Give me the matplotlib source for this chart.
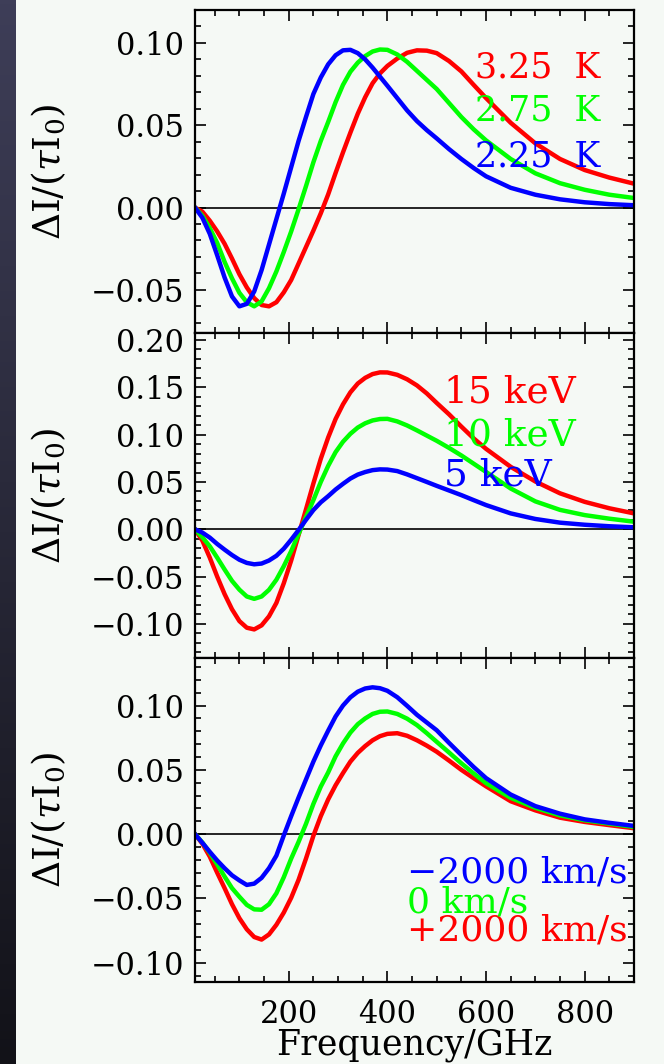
import numpy as np
import matplotlib
matplotlib.use("Agg")
import matplotlib.pyplot as plt
from matplotlib.ticker import MultipleLocator, FuncFormatter

plt.rcParams["font.family"] = ["DejaVu Serif"]
plt.rcParams["mathtext.fontset"] = "dejavuserif"

# frequency grid (GHz) shared by all curves
freq = [10, 25, 40, 55, 70, 85, 100, 115, 130, 145, 160, 175, 190, 205, 220, 235,
        250, 265, 280, 295, 310, 325, 340, 355, 370, 385, 400, 420, 440, 460, 480,
        500, 525, 550, 575, 600, 650, 700, 750, 800, 850, 900]

# top panel: CMB temperature
t_325 = [0, -0.0025, -0.0080, -0.0145, -0.0220, -0.0310, -0.0405, -0.0485, -0.0550,
         -0.0592, -0.0600, -0.0575, -0.0515, -0.0440, -0.0340, -0.0240, -0.0140,
         -0.0035, 0.0080, 0.0210, 0.0335, 0.0455, 0.0570, 0.0670, 0.0755, 0.0815,
         0.0860, 0.0905, 0.0940, 0.0955, 0.0953, 0.0938, 0.0890, 0.0827, 0.0745,
         0.0665, 0.0515, 0.0390, 0.0295, 0.0228, 0.0182, 0.0145]
t_275 = [0, -0.0050, -0.0125, -0.0215, -0.0330, -0.0430, -0.0518, -0.0575, -0.0600,
         -0.0570, -0.0490, -0.0388, -0.0270, -0.0145, -0.0010, 0.0130, 0.0275,
         0.0405, 0.0520, 0.0640, 0.0745, 0.0825, 0.0880, 0.0920, 0.0948, 0.0960,
         0.0958, 0.0930, 0.0885, 0.0830, 0.0775, 0.0720, 0.0635, 0.0550, 0.0475,
         0.0408, 0.0295, 0.0208, 0.0148, 0.0108, 0.0078, 0.0058]
t_225 = [0, -0.0062, -0.0160, -0.0290, -0.0425, -0.0540, -0.0600, -0.0585, -0.0510,
         -0.0380, -0.0225, -0.0070, 0.0085, 0.0245, 0.0405, 0.0550, 0.0690, 0.0790,
         0.0870, 0.0925, 0.0955, 0.0958, 0.0938, 0.0900, 0.0850, 0.0795, 0.0740,
         0.0665, 0.0590, 0.0525, 0.0470, 0.0420, 0.0355, 0.0295, 0.0240, 0.0190,
         0.0120, 0.0078, 0.0050, 0.0032, 0.0021, 0.0014]

# middle panel: gas temperature
kt_15 = [0, -0.0120, -0.0300, -0.0500, -0.0685, -0.0845, -0.0970, -0.1040, -0.1058,
         -0.1015, -0.0920, -0.0778, -0.0570, -0.0330, -0.0060, 0.0210, 0.0484,
         0.0745, 0.0970, 0.1165, 0.1320, 0.1447, 0.1540, 0.1600, 0.1640, 0.1658,
         0.1657, 0.1632, 0.1585, 0.1520, 0.1435, 0.1335, 0.1215, 0.1085, 0.0960,
         0.0850, 0.0660, 0.0505, 0.0380, 0.0290, 0.0222, 0.0168]
kt_10 = [0, -0.0085, -0.0180, -0.0300, -0.0425, -0.0545, -0.0638, -0.0710, -0.0735,
         -0.0710, -0.0640, -0.0533, -0.0390, -0.0230, -0.0050, 0.0130, 0.0308,
         0.0500, 0.0670, 0.0815, 0.0925, 0.1009, 0.1075, 0.1120, 0.1150, 0.1165,
         0.1167, 0.1140, 0.1097, 0.1045, 0.0990, 0.0935, 0.0860, 0.0780, 0.0693,
         0.0606, 0.0431, 0.0295, 0.0205, 0.0150, 0.0112, 0.0080]
kt_5 = [0, -0.0035, -0.0088, -0.0155, -0.0215, -0.0272, -0.0322, -0.0355, -0.0370,
        -0.0362, -0.0330, -0.0280, -0.0205, -0.0110, -0.0008, 0.0100, 0.0203,
        0.0285, 0.0350, 0.0420, 0.0480, 0.0536, 0.0578, 0.0605, 0.0625, 0.0633,
        0.0631, 0.0615, 0.0580, 0.0540, 0.0500, 0.0459, 0.0410, 0.0361, 0.0308,
        0.0256, 0.0168, 0.0109, 0.0070, 0.0048, 0.0032, 0.0021]

# bottom panel: peculiar velocity
v_pos = [0, -0.0075, -0.0175, -0.0300, -0.0420, -0.0545, -0.0654, -0.0740, -0.0800,
         -0.0820, -0.0780, -0.0705, -0.0610, -0.0495, -0.0355, -0.0190, -0.0013,
         0.0140, 0.0270, 0.0380, 0.0475, 0.0564, 0.0632, 0.0685, 0.0730, 0.0762,
         0.0780, 0.0785, 0.0765, 0.0730, 0.0688, 0.0641, 0.0572, 0.0500, 0.0435,
         0.0372, 0.0256, 0.0185, 0.0128, 0.0095, 0.0070, 0.0046]
v_zero = [0, -0.0065, -0.0145, -0.0235, -0.0330, -0.0420, -0.0487, -0.0550, -0.0585,
          -0.0588, -0.0545, -0.0460, -0.0335, -0.0190, -0.0060, 0.0080, 0.0235,
          0.0370, 0.0480, 0.0605, 0.0705, 0.0790, 0.0855, 0.0900, 0.0935, 0.0952,
          0.0954, 0.0935, 0.0898, 0.0848, 0.0785, 0.0718, 0.0635, 0.0551, 0.0472,
          0.0397, 0.0282, 0.0205, 0.0146, 0.0108, 0.0082, 0.0056]
v_neg = [0, -0.0068, -0.0138, -0.0205, -0.0265, -0.0320, -0.0360, -0.0395, -0.0385,
         -0.0340, -0.0265, -0.0167, -0.0010, 0.0140, 0.0285, 0.0425, 0.0564, 0.0690,
         0.0805, 0.0915, 0.1000, 0.1064, 0.1108, 0.1133, 0.1142, 0.1135, 0.1115,
         0.1065, 0.0998, 0.0928, 0.0868, 0.0808, 0.0710, 0.0615, 0.0522, 0.0436,
         0.0308, 0.0218, 0.0159, 0.0115, 0.0088, 0.0064]

RED, GREEN, BLUE = "#ff0000", "#00ff00", "#0000ff"
BG = "#f5f9f5"
W, H = 664, 1064

panels = [
    # (series, labels, ylim, label size, label x, label ys)
    ([t_325, t_275, t_225], ["3.25  K", "2.75  K", "2.25  K"], (-0.0762, 0.12),
     25, 0.638, [0.8235, 0.690, 0.545]),
    ([kt_15, kt_10, kt_5], ["15 keV", "10 keV", "5 keV"], (-0.136, 0.2074),
     27, 0.567, [0.817, 0.684, 0.563]),
    ([v_pos, v_zero, v_neg], ["+2000 km/s", "0 km/s", "\u22122000 km/s"], (-0.115, 0.137),
     26, 0.483, [0.160, 0.244, 0.3395]),
]
colors = [RED, GREEN, BLUE]
boxes = [(10, 333), (333, 658), (658, 982)]


def fmt(v, pos):
    if abs(v) < 1e-9:
        v = 0.0
    return f"{v:.2f}".replace("-", "\u2212")


fig = plt.figure(figsize=(W / 100, H / 100), dpi=100, facecolor=BG)

# dark strip on the left edge
strip = fig.add_axes([0, 0, 16 / W, 1])
grad = np.linspace(0, 1, 256)[:, None, None]
top_c = np.array([62, 62, 88]) / 255
bot_c = np.array([18, 18, 24]) / 255
strip.imshow(top_c * (1 - grad) + bot_c * grad, aspect="auto")
strip.axis("off")

left, right = 195, 634
for i, ((series, labels, ylim, lsize, lx, lys), (y0, y1)) in enumerate(zip(panels, boxes)):
    ax = fig.add_axes([left / W, 1 - y1 / H, (right - left) / W, (y1 - y0) / H])
    ax.set_facecolor(BG)
    ax.axhline(0, color="black", lw=1.2, zorder=1)
    for ys, c in zip(series, colors):
        ax.plot(freq, ys, color=c, lw=3.2, solid_joinstyle="round", zorder=2)
    for text, c, ly in zip(labels, colors, lys):
        ax.text(lx, ly, text, color=c, fontsize=lsize, ha="left", va="center",
                transform=ax.transAxes, clip_on=False)
    ax.set_xlim(10, 900)
    ax.set_ylim(*ylim)
    ax.xaxis.set_major_locator(MultipleLocator(200))
    ax.xaxis.set_minor_locator(MultipleLocator(50))
    ax.yaxis.set_major_locator(MultipleLocator(0.05))
    ax.yaxis.set_minor_locator(MultipleLocator(0.01))
    ax.yaxis.set_major_formatter(FuncFormatter(fmt))
    ax.tick_params(which="both", direction="in", top=True, right=True,
                   labelsize=22, width=1.2)
    ax.tick_params(which="major", length=8)
    ax.tick_params(which="minor", length=4)
    ax.tick_params(axis="y", pad=8)
    ax.tick_params(axis="x", pad=12)
    for s in ax.spines.values():
        s.set_linewidth(1.6)
    if i < 2:
        ax.tick_params(labelbottom=False)
    fig.text(49 / W, 1 - (y0 + y1) / 2 / H, r"$\Delta$I/($\tau$I$_0$)",
             rotation=90, ha="center", va="center", fontsize=27)

fig.text((left + right) / 2 / W, 1 - 1045 / H, "Frequency/GHz",
         ha="center", va="center", fontsize=25)

fig.savefig("out.png", dpi=100, facecolor=BG)
